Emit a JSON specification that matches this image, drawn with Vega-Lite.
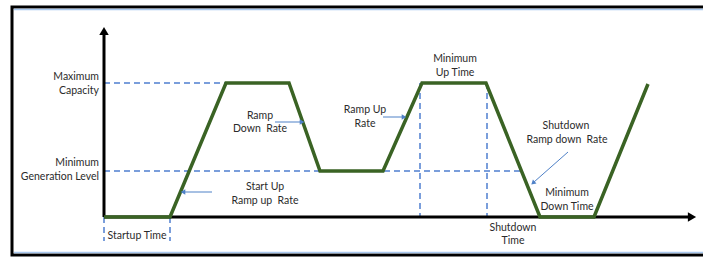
{
  "$schema": "https://vega.github.io/schema/vega-lite/v6.json",
  "width": 703,
  "height": 259,
  "padding": 0,
  "autosize": {"type": "none"},
  "background": "white",
  "config": {"view": {"stroke": null}},
  "datasets": {
    "frame": [{"t": -92, "t2": 612, "p": 210, "p2": -38}],
    "thinblue": [{"t": -90, "t2": 612, "p": 207.5, "p2": 207.5}, {"t": -90, "t2": 612, "p": -35.5, "p2": -35.5}],
    "axes": [{"t": 0, "t2": 0, "p": 0, "p2": 184}, {"t": 0, "t2": 586, "p": 0, "p2": 0}],
    "axisHeads": [{"t": 0, "p": 186, "ang": 0}, {"t": 588, "p": 0, "ang": 90}],
    "dashed": [
      {"t": 0, "t2": 122, "p": 134, "p2": 134},
      {"t": 0, "t2": 418, "p": 46, "p2": 46},
      {"t": 316, "t2": 316, "p": 134, "p2": 0},
      {"t": 383, "t2": 383, "p": 134, "p2": 0},
      {"t": 0, "t2": 0, "p": 0, "p2": -24},
      {"t": 66, "t2": 66, "p": 0, "p2": -24}
    ],
    "output": [
      {"i": 0, "t": 0, "p": 0},
      {"i": 1, "t": 66, "p": 0},
      {"i": 2, "t": 122, "p": 134},
      {"i": 3, "t": 185, "p": 134},
      {"i": 4, "t": 216, "p": 46},
      {"i": 5, "t": 279, "p": 46},
      {"i": 6, "t": 318, "p": 134},
      {"i": 7, "t": 382, "p": 134},
      {"i": 8, "t": 436, "p": 0},
      {"i": 9, "t": 490, "p": 0},
      {"i": 10, "t": 544, "p": 133}
    ],
    "arrows": [
      {"t": 171, "t2": 197, "p": 95, "p2": 95},
      {"t": 108, "t2": 80, "p": 25, "p2": 25},
      {"t": 279, "t2": 299, "p": 100, "p2": 100},
      {"t": 464, "t2": 430, "p": 65, "p2": 35}
    ],
    "arrowHeads": [
      {"t": 198, "p": 95, "ang": 90},
      {"t": 79, "p": 25, "ang": 270},
      {"t": 300, "p": 100, "ang": 90},
      {"t": 429, "p": 34, "ang": 228}
    ],
    "leftLabels": [
      {"t": -5, "p": 140, "label": "Maximum"},
      {"t": -5, "p": 126, "label": "Capacity"},
      {"t": -5, "p": 54, "label": "Minimum"},
      {"t": -5, "p": 40, "label": "Generation Level"}
    ],
    "labels": [
      {"t": 156, "p": 101, "label": "Ramp"},
      {"t": 156, "p": 88, "label": "Down\u00a0 Rate"},
      {"t": 161, "p": 30, "label": "Start Up"},
      {"t": 161, "p": 16, "label": "Ramp up\u00a0 Rate"},
      {"t": 261, "p": 107, "label": "Ramp Up"},
      {"t": 261, "p": 93, "label": "Rate"},
      {"t": 351, "p": 158, "label": "Minimum"},
      {"t": 351, "p": 144, "label": "Up Time"},
      {"t": 462, "p": 91, "label": "Shutdown"},
      {"t": 463, "p": 77, "label": "Ramp down\u00a0 Rate"},
      {"t": 463, "p": 24, "label": "Minimum"},
      {"t": 463, "p": 10, "label": "Down Time"},
      {"t": 409, "p": -11, "label": "Shutdown"},
      {"t": 409, "p": -24, "label": "Time"},
      {"t": 33, "p": -19, "label": "Startup Time"}
    ]
  },
  "encoding": {
    "x": {"field": "t", "type": "quantitative", "scale": {"domain": [-104, 599], "nice": false, "zero": false}, "axis": null},
    "y": {"field": "p", "type": "quantitative", "scale": {"domain": [-42, 217], "nice": false, "zero": false}, "axis": null}
  },
  "layer": [
    {
      "data": {"name": "frame"},
      "mark": {"type": "rect", "fill": null, "stroke": "black", "strokeWidth": 3},
      "encoding": {"x2": {"field": "t2"}, "y2": {"field": "p2"}}
    },
    {
      "data": {"name": "thinblue"},
      "mark": {"type": "rule", "color": "#a9c8ee", "strokeWidth": 1.5},
      "encoding": {"x2": {"field": "t2"}, "y2": {"field": "p2"}}
    },
    {
      "data": {"name": "dashed"},
      "mark": {"type": "rule", "color": "#4f7fd0", "strokeWidth": 1.5, "strokeDash": [6, 4]},
      "encoding": {"x2": {"field": "t2"}, "y2": {"field": "p2"}}
    },
    {
      "data": {"name": "axes"},
      "mark": {"type": "rule", "color": "black", "strokeWidth": 3},
      "encoding": {"x2": {"field": "t2"}, "y2": {"field": "p2"}}
    },
    {
      "data": {"name": "axisHeads"},
      "mark": {"type": "point", "shape": "triangle-up", "filled": true, "color": "black", "size": 90, "opacity": 1},
      "encoding": {"angle": {"field": "ang", "type": "quantitative", "scale": null}}
    },
    {
      "data": {"name": "output"},
      "mark": {"type": "line", "color": "#3a6324", "strokeWidth": 3.5, "strokeJoin": "miter"},
      "encoding": {"order": {"field": "i", "type": "quantitative"}}
    },
    {
      "data": {"name": "arrows"},
      "mark": {"type": "rule", "color": "#4f81c7", "strokeWidth": 1},
      "encoding": {"x2": {"field": "t2"}, "y2": {"field": "p2"}}
    },
    {
      "data": {"name": "arrowHeads"},
      "mark": {"type": "point", "shape": "triangle-up", "filled": true, "color": "#4f81c7", "size": 28, "opacity": 1},
      "encoding": {"angle": {"field": "ang", "type": "quantitative", "scale": null}}
    },
    {
      "data": {"name": "leftLabels"},
      "mark": {"type": "text", "font": "Lato", "fontSize": 10.5, "color": "#2b2b2b", "baseline": "middle", "align": "right"},
      "encoding": {"text": {"field": "label"}}
    },
    {
      "data": {"name": "labels"},
      "mark": {"type": "text", "font": "Lato", "fontSize": 10.5, "color": "#2b2b2b", "baseline": "middle", "align": "center"},
      "encoding": {"text": {"field": "label"}}
    }
  ]
}
